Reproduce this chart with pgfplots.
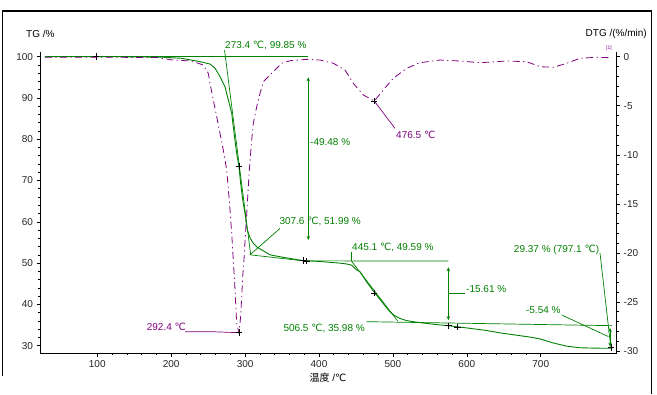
\documentclass[border=0pt]{standalone}
\usepackage{fontspec}
\setmainfont{Liberation Sans}
\newfontfamily\dv{DejaVu Sans}
\newfontfamily\cjk{Noto Sans CJK SC}
\usepackage{pgfplots}
\pgfplotsset{compat=1.18}
\usetikzlibrary{arrows.meta}
\definecolor{tgg}{RGB}{0,128,0}
\definecolor{dtgp}{RGB}{128,0,128}
\newcommand{\degC}{{\dv ℃}}
\newcommand{\fs}{\fontsize{10bp}{12bp}\selectfont}
\pgfplotsset{
  common/.style={
    at={(40bp,41bp)}, anchor=south west, scale only axis,
    width=576.7bp, height=301.3bp,
    xmin=22.5, xmax=802.8, clip=false,
    tick align=outside, major tick length=3.5bp, minor tick length=2bp,
    tick style={black, line width=0.6bp},
    axis line style={-, black, line width=1bp},
    tick label style={font=\fs, text=black!85},
    /pgf/number format/assume math mode=true,
  },
  dbl/.style={tgg, line width=0.7bp, {Stealth[length=4bp,width=3.5bp]}-{Stealth[length=4bp,width=3.5bp]}},
  lead/.style={line width=0.7bp},
}
\begin{document}
\begin{tikzpicture}[x=1bp,y=1bp]
\path[use as bounding box] (0,0) rectangle (657,394);
\fill[white] (0,0) rectangle (657,394);
\draw[black, line width=1.2bp] (2.7,18) -- (2.7,383) -- (651.7,383) -- (651.7,0);
\node[anchor=west, font=\fs, inner sep=0] at (26,360) {TG /\%};
\node[anchor=east, font=\fs, inner sep=0] at (647,360) {DTG /(\%/min)};
\node[font=\fs, inner sep=0] at (328,16) {{\cjk 温度} /\degC};

% ---------- TG axis ----------
\begin{axis}[common,
  ymin=28.23, ymax=101.2,
  axis x line*=bottom, axis y line*=left,
  xtick={100,200,...,700}, minor x tick num=4,
  ytick={30,40,...,100}, minor y tick num=4,
]
% TG curve
\addplot[tgg, line width=0.9bp] coordinates {
(29,100.0) (100,100.0) (150,99.95) (190,99.85) (214,99.6) (239,98.8) (252.5,98.2)
(259.3,97.2) (266,95.2) (272.8,92.7) (277.3,89.5) (281.9,86.3) (284,83.0) (286.3,79.8)
(288.6,76.6) (291.7,73.4) (294,69.3) (296.8,65.3) (299.8,62.1) (302.2,58.8) (304.3,57.3)
(307,56.0) (311.1,54.8) (316,53.9) (322.5,53.2) (333.7,52.0) (351.7,51.4) (378.7,50.6)
(401,50.4) (428,50.0) (437,49.8) (444.3,49.5) (450,48.5) (455.5,47.9) (465,45.3)
(475.8,42.7) (486,40.4) (496,38.2) (502,37.3) (509.6,36.6) (518,36.1) (527.6,35.8)
(545,35.4) (560,35.1) (577,34.8) (600,34.3) (626,33.7) (645,33.1) (665,32.6) (685,32.1)
(700,31.6) (716,30.7) (735,29.9) (753,29.5) (775,29.4) (797,29.37)
};
% tangents and baselines
\addplot[tgg, line width=1.2bp] coordinates {(29,100) (385.5,100)};
\addplot[tgg, lead] coordinates {(272.15,101.6) (307.6,51.99)};
\addplot[tgg, lead] coordinates {(307.6,51.99) (378.7,50.55) (575,50.5)};
\addplot[tgg, lead] coordinates {(444.3,50.4) (506.5,35.98)};
\addplot[tgg, lead] coordinates {(464.5,35.82) (796.5,34.85)};
% leaders
\addplot[tgg, lead] coordinates {(306.6,52.0) (347.2,58.4)};
\addplot[tgg, lead] coordinates {(444.3,50.4) (444.3,52.8)};
\addplot[tgg, lead] coordinates {(575,42.7) (597.6,42.7)};
\addplot[tgg, lead] coordinates {(728.4,37.44) (791.5,32.2)};
\addplot[tgg, lead] coordinates {(780.2,52.4) (794.7,29.77)};
% step arrows
\addplot[dbl] coordinates {(385.5,95.0) (385.5,55.6)};
\addplot[dbl] coordinates {(575,49.0) (575,36.2)};
\addplot[dbl] coordinates {(793.8,34.3) (793.8,29.8)};
% markers
\addplot[only marks, mark=+, black, mark size=3.2bp, mark options={line width=0.8bp}] coordinates {
(98.2,100) (291.7,73.4) (378.8,50.6) (383.3,50.5) (474.8,42.7) (575,34.8) (587.2,34.5) (795,29.6)};
% texts
\begin{scope}[every node/.style={font=\fs, text=tgg, inner sep=0}]
\node[anchor=west] at (axis cs:272.8,102.6) {273.4 \degC, 99.85 \%};
\node[anchor=west] at (axis cs:346.3,60.0) {307.6 \degC, 51.99 \%};
\node[anchor=west] at (axis cs:387.8,79.4) {-49.48 \%};
\node[anchor=west] at (axis cs:444.7,53.8) {445.1 \degC, 49.59 \%};
\node[anchor=west] at (axis cs:598.9,43.74) {-15.61 \%};
\node[anchor=west] at (axis cs:351.7,34.22) {506.5 \degC, 35.98 \%};
\node[anchor=east] at (axis cs:727.1,38.65) {-5.54 \%};
\node[anchor=east] at (axis cs:779.3,53.19) {29.37 \% (797.1 \degC)};
\end{scope}
\end{axis}

% ---------- DTG axis ----------
\begin{axis}[common,
  ymin=-30.2, ymax=0.51,
  axis x line=none, axis y line*=right,
  ytick={-30,-25,...,0}, minor y tick num=4,
]
\addplot[dtgp, line width=0.8bp, dash pattern=on 7bp off 3.5bp on 1.2bp off 3.5bp] coordinates {
(29,-0.06) (120,-0.06) (180,-0.08) (202.8,-0.34) (227.7,-0.44) (243.4,-0.85)
(250.2,-1.69) (252.5,-2.71) (257.0,-4.41) (261.6,-6.12) (266.0,-7.81) (270.5,-9.51)
(275.1,-11.55) (278.6,-14.6) (281.9,-18.0) (284.0,-20.72) (285.7,-22.8) (288.6,-27.2)
(291.7,-28.13) (294.0,-26.5) (296.8,-22.4) (298.5,-20.7) (300.3,-18.3) (302.2,-16.0)
(305.7,-11.55) (308.9,-8.49) (311.1,-6.79) (315.7,-5.10) (320.2,-3.73) (324.6,-2.55)
(336.0,-1.69) (349.5,-0.67) (360.8,-0.41) (383.4,-0.27) (401.4,-0.34) (419.4,-0.67)
(435.2,-1.36) (446.4,-2.71) (460.0,-3.90) (474.8,-4.52) (487.0,-3.39) (500.5,-2.20)
(518.7,-1.18) (536.7,-0.61) (563.7,-0.34) (590.8,-0.44) (617.9,-0.61) (654.0,-0.44)
(681.1,-0.51) (699.1,-1.02) (717.1,-1.08) (735.2,-0.67) (753.2,-0.16) (775.8,-0.06)
(793.8,-0.10)
};
\addplot[dtgp, lead] coordinates {(474.8,-4.52) (502.8,-7.3)};
\addplot[dtgp, lead] coordinates {(218.7,-28.03) (255.2,-28.03) (291.7,-28.13)};
\addplot[only marks, mark=+, black, mark size=3.2bp, mark options={line width=0.8bp}] coordinates {
(474.8,-4.52) (291.7,-28.13)};
\begin{scope}[every node/.style={font=\fs, text=dtgp, inner sep=0}]
\node[anchor=west] at (axis cs:504.2,-7.98) {476.5 \degC};
\node[anchor=west] at (axis cs:166.8,-27.52) {292.4 \degC};
\node[font=\fontsize{5bp}{6bp}\selectfont] at (axis cs:792.4,0.85) {[1]};
\end{scope}
\end{axis}
\end{tikzpicture}
\end{document}
